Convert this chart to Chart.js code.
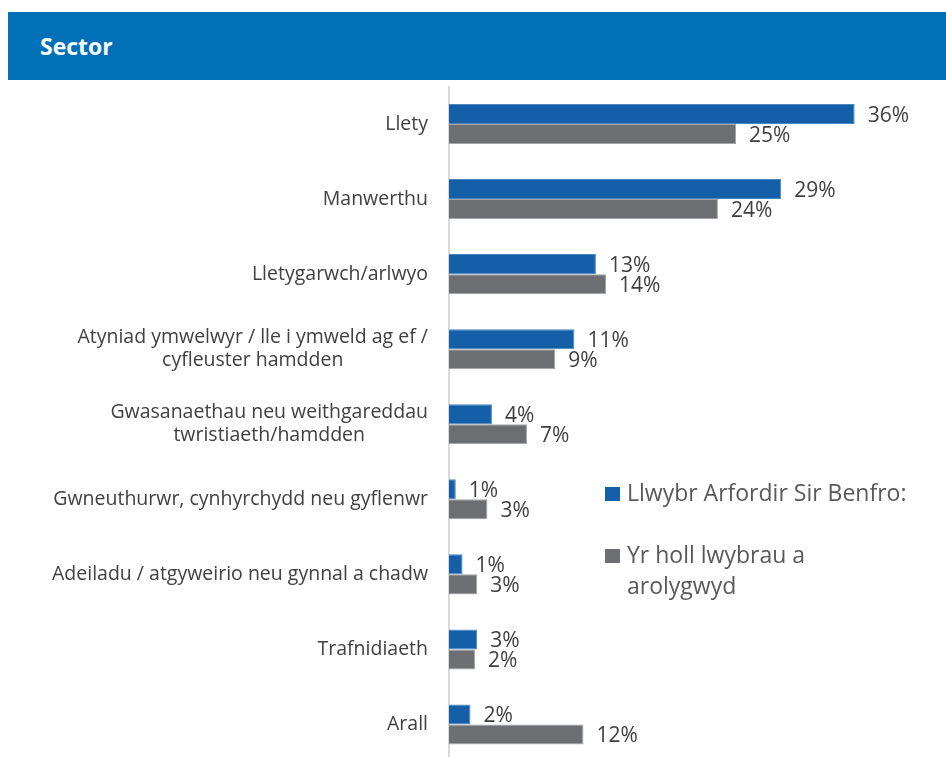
<!DOCTYPE html>
<html>
<head>
<meta charset="utf-8">
<script src="https://cdn.jsdelivr.net/npm/chart.js@4/dist/chart.umd.min.js"></script>
<style>
  html, body { margin: 0; padding: 0; background: #ffffff; overflow: hidden; }
  #wrap { position: relative; width: 946px; height: 757px; overflow: hidden; }
  #titlebar { position: absolute; left: 8px; top: 12px; width: 938px; height: 68px; background: #0070b8; }
  #title { position: absolute; left: 32px; top: 0; line-height: 68px; color: #ffffff; font-family: "Open Sans", sans-serif; font-weight: 700; font-size: 23px; }
  canvas { position: absolute; left: 0; top: 0; }
</style>
</head>
<body>
<div id="wrap">
  <div id="titlebar"><div id="title">Sector</div></div>
  <canvas id="c" width="946" height="762"></canvas>
</div>
<script>
const categories = [
  'Llety',
  'Manwerthu',
  'Lletygarwch/arlwyo',
  ['Atyniad ymwelwyr / lle i ymweld ag ef /', 'cyfleuster hamdden'],
  ['Gwasanaethau neu weithgareddau', 'twristiaeth/hamdden'],
  'Gwneuthurwr, cynhyrchydd neu gyflenwr',
  'Adeiladu / atgyweirio neu gynnal a chadw',
  'Trafnidiaeth',
  'Arall'
];
const seriesNames = [
  ['Llwybr Arfordir Sir Benfro:'],
  ['Yr holl lwybrau a', 'arolygwyd']
];
const pembrokeshireValues = [35.9, 29.4, 13.0, 11.1, 3.8, 0.6, 1.2, 2.5, 1.9];
const allTrailsValues     = [25.4, 23.8, 13.9, 9.4, 6.9, 3.4, 2.5, 2.3, 11.9];
const pembrokeshireLabels = [36, 29, 13, 11, 4, 1, 1, 3, 2];
const allTrailsLabels     = [25, 24, 14, 9, 7, 3, 3, 2, 12];
const xTicks = { min: 0, max: 40 };

const BLUE = '#155fa8';
const GREY = '#6d6e71';
const TEXT = '#404040';
const FONT = '"Open Sans", sans-serif';

const labelsPlugin = {
  id: 'customLabels',
  afterDraw(chart) {
    const ctx = chart.ctx;
    const yScale = chart.scales.y;
    const area = chart.chartArea;
    ctx.save();
    // category labels
    ctx.font = '19.5px ' + FONT;
    ctx.fillStyle = TEXT;
    ctx.textBaseline = 'middle';
    ctx.textAlign = 'center';
    const rightX = area.left - 21;
    const lh = 23;
    categories.forEach((cat, i) => {
      const lines = Array.isArray(cat) ? cat : [cat];
      const w = Math.max(...lines.map(l => ctx.measureText(l).width));
      const cx = rightX - w / 2;
      const yc = yScale.getPixelForValue(i);
      const y0 = yc - (lines.length - 1) * lh / 2;
      lines.forEach((l, j) => ctx.fillText(l, cx, y0 + j * lh));
    });
    // data labels
    ctx.font = '21px ' + FONT;
    ctx.textAlign = 'left';
    const labelSets = [pembrokeshireLabels, allTrailsLabels];
    chart.data.datasets.forEach((ds, di) => {
      const meta = chart.getDatasetMeta(di);
      meta.data.forEach((bar, i) => {
        ctx.fillText(labelSets[di][i] + '%', bar.x + 13, bar.y + 2);
      });
    });
    // legend
    const legendX = 605;
    const rows = [494, 556];
    ctx.font = '23px ' + FONT;
    seriesNames.forEach((lines, di) => {
      ctx.fillStyle = chart.data.datasets[di].backgroundColor;
      ctx.fillRect(legendX, rows[di] - 7, 15, 14);
      ctx.fillStyle = '#595959';
      lines.forEach((l, j) => ctx.fillText(l, legendX + 22, rows[di] + j * 31));
    });
    ctx.restore();
  }
};

new Chart(document.getElementById('c'), {
  type: 'bar',
  data: {
    labels: categories,
    datasets: [
      { label: seriesNames[0].join(' '), data: pembrokeshireValues, backgroundColor: BLUE, borderColor: '#4a86c0', borderWidth: 1, borderSkipped: 'left' },
      { label: seriesNames[1].join(' '), data: allTrailsValues, backgroundColor: GREY, borderColor: '#a3a4a6', borderWidth: 1, borderSkipped: 'left' }
    ]
  },
  options: {
    indexAxis: 'y',
    responsive: false,
    animation: false,
    devicePixelRatio: 1,
    layout: { padding: { left: 449, right: 45, top: 86.5, bottom: 0 } },
    datasets: { bar: { categoryPercentage: 40 / 75, barPercentage: 1 } },
    plugins: { legend: { display: false }, tooltip: { enabled: false } },
    scales: {
      x: { display: false, min: xTicks.min, max: xTicks.max },
      y: {
        display: true,
        ticks: { display: false },
        grid: { display: false, drawTicks: false },
        border: { display: true, color: '#d9d9d9', width: 2 }
      }
    }
  },
  plugins: [labelsPlugin]
});
</script>
</body>
</html>
